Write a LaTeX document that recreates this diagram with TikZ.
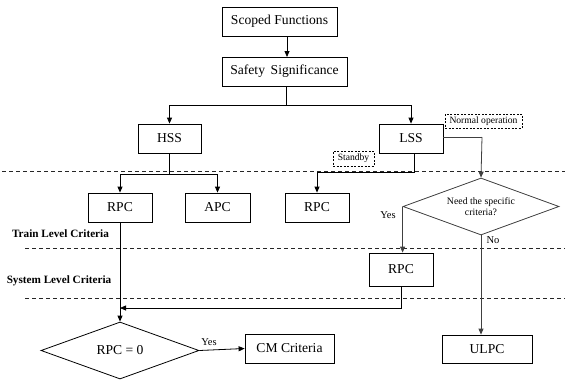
\documentclass[tikz,border=0pt]{standalone}
\usepackage{fontspec}
\setmainfont{Liberation Serif}
\usetikzlibrary{shapes.geometric,arrows.meta}
\begin{document}
\begin{tikzpicture}[x=1pt,y=-1pt,
  box/.style={draw=black,line width=0.8pt,rectangle,inner sep=0pt,font=\fontsize{13.6}{15}\selectfont},
  tag/.style={draw=black,line width=0.6pt,dash pattern=on 2pt off 1.5pt,rectangle,inner sep=0pt,font=\fontsize{9.6}{11}\selectfont},
  dia/.style={draw=black,line width=0.8pt,diamond,shape aspect=2.7,inner sep=0pt},
  ln/.style={line width=0.8pt,draw=black},
  glink/.style={line width=0.8pt,draw=black!75},
  arr/.style={-{Triangle[length=6pt,width=5pt]}},
  sep/.style={line width=0.6pt,dash pattern=on 4pt off 3pt,draw=black!85},
  lvl/.style={font=\fontsize{11.2}{13}\selectfont\bfseries,inner sep=0pt},
  lbl/.style={font=\fontsize{10.5}{12}\selectfont,inner sep=0pt}]
\useasboundingbox (0,0) rectangle (567,380);
% level separators
\draw[sep] (2,171) -- (565,171);
\draw[sep] (25,248) -- (565,248);
\draw[sep] (25,298) -- (565,298);
\node[lvl] (tlc) at (60.5,234) {Train Level Criteria};
\node[lvl] (slc) at (59,281) {System Level Criteria};
% boxes
\node[box,minimum width=115pt,minimum height=29pt] (sf) at (279.5,21.5) {Scoped Functions};
\node[box,minimum width=125pt,minimum height=29pt] (ss) at (284.5,71.5) {Safety\, Significance};
\node[box,minimum width=63pt,minimum height=29pt] (hss) at (169.5,138.5) {HSS};
\node[box,minimum width=64pt,minimum height=29pt] (lss) at (411,138.5) {LSS};
\node[box,minimum width=64pt,minimum height=29pt] (rpc1) at (120,207.5) {RPC};
\node[box,minimum width=65pt,minimum height=29pt] (apc) at (217.5,207.5) {APC};
\node[box,minimum width=64pt,minimum height=29pt] (rpc3) at (317,207.5) {RPC};
\node[box,minimum width=64pt,minimum height=33pt] (rpc4) at (401,269.5) {RPC};
\node[box,minimum width=89pt,minimum height=29pt] (cm) at (289.5,348.5) {CM Criteria};
\node[box,minimum width=90pt,minimum height=28pt] (ulpc) at (487,349) {ULPC};
\node[tag,minimum width=77pt,minimum height=14pt] (norm) at (483.5,121) {Normal operation};
\node[tag,minimum width=41pt,minimum height=15pt] (stby) at (353.5,158.5) {Standby};
\node[dia,draw=black!75,minimum width=156pt,minimum height=57pt,font=\fontsize{9.8}{11}\selectfont,align=center] (need) at (481,206.5) {Need the specific\\criteria?};
\node[dia,minimum width=158pt,minimum height=57pt,font=\fontsize{13.6}{15}\selectfont] (rpc0) at (120,350.5) {RPC = 0};
% connectors
\coordinate (a1) at (287,36);
\coordinate (a2) at (287,57);
\draw[ln,arr] (a1) -- (a2);
\coordinate (j1) at (286,105);
\draw[ln] (ss.south -| j1) -- (j1);
\draw[ln,arr] (j1) -| (hss.north);
\draw[ln,arr] (j1) -| (lss.north);
\coordinate (j2) at (169.5,174);
\draw[ln] (hss.south) -- (j2);
\draw[ln,arr] (j2) -| (rpc1.north);
\draw[ln,arr] (j2) -| (apc.north);
\coordinate (l1) at (414,153);
\coordinate (l2) at (414,172.5);
\draw[ln] (l1) -- (l2);
\draw[ln,arr] (l2) -| (rpc3.north);
\coordinate (e1) at (482,137);
\draw[glink] (lss.east |- e1) -- (e1);
\draw[glink,arr] (e1) -- (need.north);
\draw[glink,arr] (need.west) -- (need.west |- rpc4.north);
\draw[glink,arr] (need.south) -- (need.south |- ulpc.north);
\draw[ln,arr] (rpc1.south) -- (rpc0.north);
\coordinate (j3) at (120,308);
\draw[ln,arr] (rpc4.south) |- (j3);
\draw[ln,arr] (rpc0.east) -- (cm.west);
\node[lbl] (yes1) at (388,215) {Yes};
\node[lbl] (no1) at (493,240) {No};
\node[lbl] (yes2) at (209,342) {Yes};
\end{tikzpicture}
\end{document}
